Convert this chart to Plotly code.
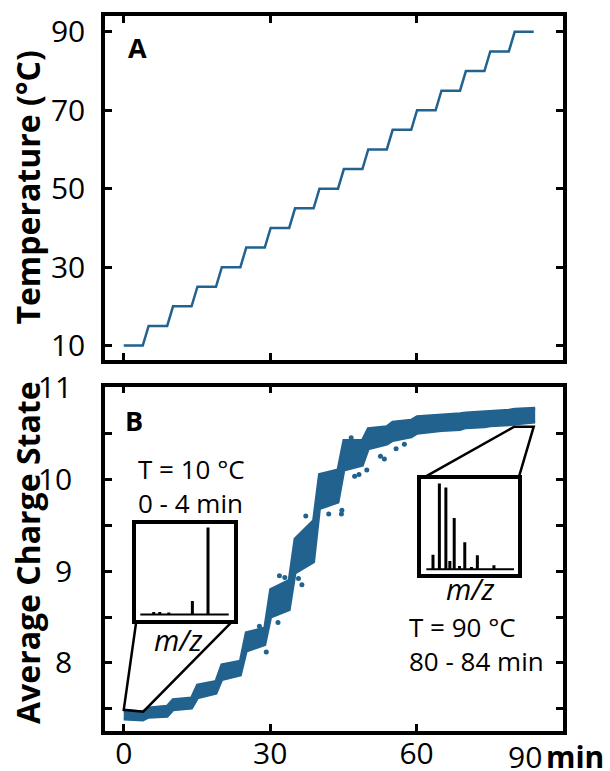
import plotly.graph_objects as go

# ---- Panel A: temperature program (min, °C) ----
temp_time = [0.0, 3.9, 5.1, 8.9, 10.1, 13.9, 15.1, 18.9, 20.1, 23.9, 25.1, 28.9,
             30.1, 33.9, 35.1, 38.9, 40.1, 43.9, 45.1, 48.9, 50.1, 53.9, 55.1, 58.9,
             60.1, 63.9, 65.1, 68.9, 70.1, 73.9, 75.1, 78.9, 80.1, 84.0]
temp_val = [10, 10, 15, 15, 20, 20, 25, 25, 30, 30, 35, 35,
            40, 40, 45, 45, 50, 50, 55, 55, 60, 60, 65, 65,
            70, 70, 75, 75, 80, 80, 85, 85, 90, 90]

# ---- Panel B: average charge state, spread of the measured values ----
acs_time = [0.0, 3.9, 5.1, 8.9, 10.1, 13.9, 15.1, 18.9, 20.1, 23.9, 25.1, 28.9,
            30.1, 33.9, 35.1, 38.9, 40.1, 43.9, 45.1, 48.9, 50.1, 53.9, 55.1, 58.9,
            60.1, 63.9, 65.1, 68.9, 70.1, 73.9, 75.1, 78.9, 80.1, 84.3]
acs_low = [7.39, 7.38, 7.41, 7.42, 7.49, 7.51, 7.62, 7.67, 7.82, 7.87, 8.13, 8.20,
           8.50, 8.58, 8.98, 9.10, 9.68, 9.75, 10.10, 10.15, 10.33, 10.38, 10.42, 10.46,
           10.50, 10.52, 10.53, 10.54, 10.56, 10.57, 10.58, 10.59, 10.60, 10.62]
acs_high = [7.48, 7.47, 7.51, 7.53, 7.60, 7.62, 7.76, 7.80, 7.98, 8.02, 8.33, 8.38,
            8.80, 8.90, 9.35, 9.55, 10.05, 10.10, 10.42, 10.42, 10.55, 10.57, 10.62, 10.64,
            10.68, 10.69, 10.70, 10.71, 10.72, 10.73, 10.74, 10.75, 10.76, 10.77]
# scattered single scans away from the main band
out_time = [27.8, 29.2, 31.6, 31.9, 33.0, 35.8, 36.5, 37.3, 42.0, 44.6, 44.7,
            46.6, 47.3, 48.2, 49.8, 52.6, 53.4, 55.8, 57.5]
out_val = [8.40, 8.12, 8.44, 8.95, 8.93, 8.92, 8.85, 9.60, 9.62, 9.62, 9.66,
           10.45, 10.03, 10.05, 10.10, 10.25, 10.22, 10.33, 10.38]

# ---- Inset spectra (relative m/z position, relative intensity) ----
spec_lo_mz = [0.178, 0.240, 0.333, 0.576, 0.737]
spec_lo_int = [0.085, 0.085, 0.080, 0.200, 0.960]
spec_lo_base = 0.06
spec_hi_mz = [0.119, 0.185, 0.252, 0.293, 0.338, 0.393, 0.447, 0.516, 0.577, 0.748]
spec_hi_int = [0.205, 0.951, 0.909, 0.139, 0.590, 0.087, 0.336, 0.076, 0.198, 0.094]
spec_hi_base = 0.052

# time windows of the two spectra and the inset boxes (in panel B units)
win_lo = [0.0, 4.0]
win_lo_level = [7.49, 7.47]
win_hi = [80.0, 84.0]
win_hi_level = [10.57, 10.57]
box_lo = dict(t=[2.6, 22.5], v=[8.465, 9.515])
box_hi = dict(t=[61.0, 80.85], v=[8.965, 10.003])

BLUE = "#21628f"
FONT = "Open Sans"

X_RANGE = [-3.84, 90]
YA_RANGE = [6.38, 94.03]
YB_RANGE = [7.26, 11.005]
DOM_A = [0.5192, 1.0]
DOM_B = [0.0, 0.4815]

fig = go.Figure()

fig.add_trace(go.Scatter(x=temp_time, y=temp_val, mode="lines",
                         line=dict(color=BLUE, width=2.5), xaxis="x", yaxis="y"))

fig.add_trace(go.Scatter(x=acs_time, y=acs_low, mode="lines",
                         line=dict(color=BLUE, width=3), xaxis="x2", yaxis="y2"))
fig.add_trace(go.Scatter(x=acs_time, y=acs_high, mode="lines", fill="tonexty",
                         fillcolor=BLUE, line=dict(color=BLUE, width=3),
                         xaxis="x2", yaxis="y2"))
fig.add_trace(go.Scatter(x=out_time, y=out_val, mode="markers",
                         marker=dict(color=BLUE, size=5), xaxis="x2", yaxis="y2"))

# connectors from the sampled windows to the inset boxes
fig.add_trace(go.Scatter(
    x=[box_lo["t"][0], win_lo[0], win_lo[1], box_lo["t"][1]],
    y=[box_lo["v"][0], win_lo_level[0], win_lo_level[1], box_lo["v"][0]],
    mode="lines", line=dict(color="black", width=2.5), xaxis="x2", yaxis="y2"))
fig.add_trace(go.Scatter(
    x=[box_hi["t"][0], win_hi[0], win_hi[1], box_hi["t"][1]],
    y=[box_hi["v"][1], win_hi_level[0], win_hi_level[1], box_hi["v"][1]],
    mode="lines", line=dict(color="black", width=2.5), xaxis="x2", yaxis="y2"))


def stick_xy(mz, inten, base):
    xs, ys = [], []
    for m, h in zip(mz, inten):
        xs += [m, m, None]
        ys += [base, h, None]
    return xs, ys


for mz, inten, base, base_span, ax in [
        (spec_lo_mz, spec_lo_int, spec_lo_base, [0.04, 0.95], "3"),
        (spec_hi_mz, spec_hi_int, spec_hi_base, [0.05, 0.955], "4")]:
    xs, ys = stick_xy(mz, inten, base)
    fig.add_trace(go.Scatter(x=xs, y=ys, mode="lines",
                             line=dict(color="black", width=3),
                             xaxis="x" + ax, yaxis="y" + ax))
    fig.add_trace(go.Scatter(x=base_span, y=[base, base], mode="lines",
                             line=dict(color="black", width=2),
                             xaxis="x" + ax, yaxis="y" + ax))


def to_frac(t, rng, dom):
    return dom[0] + (t - rng[0]) / (rng[1] - rng[0]) * (dom[1] - dom[0])


def inset_domain(box):
    xd = [to_frac(box["t"][0], X_RANGE, [0, 1]), to_frac(box["t"][1], X_RANGE, [0, 1])]
    yd = [to_frac(box["v"][0], YB_RANGE, DOM_B), to_frac(box["v"][1], YB_RANGE, DOM_B)]
    return xd, yd


frame = dict(showline=True, linewidth=3.5, linecolor="black", mirror="ticks",
             ticks="inside", ticklen=7, tickwidth=3, tickcolor="black",
             showgrid=False, zeroline=False, automargin=False,
             tickfont=dict(family=FONT, size=30, color="black"))

inset = dict(showline=True, linewidth=3.5, linecolor="black", mirror=True,
             ticks="", showticklabels=False, showgrid=False, zeroline=False,
             automargin=False, range=[0, 1])

xd3, yd3 = inset_domain(box_lo)
xd4, yd4 = inset_domain(box_hi)

fig.update_layout(
    template="none",
    width=610, height=771,
    margin=dict(l=104.5, r=46.5, t=15.5, b=40, pad=0),
    paper_bgcolor="white", plot_bgcolor="white",
    showlegend=False,
    xaxis=dict(frame, domain=[0, 1], anchor="y", range=X_RANGE,
               tickvals=[0, 30, 60, 90], showticklabels=False),
    yaxis=dict(frame, domain=DOM_A, anchor="x", range=YA_RANGE,
               tickvals=[10, 30, 50, 70, 90], ticklabelstandoff=10),
    xaxis2=dict(frame, domain=[0, 1], anchor="y2", range=X_RANGE,
                tickvals=[0, 30, 60, 90], ticktext=["0", "30", "60", ""],
                ticklabelstandoff=-7),
    yaxis2=dict(frame, domain=DOM_B, anchor="x2", range=YB_RANGE,
                tickvals=[7.5, 8, 8.5, 9, 9.5, 10, 10.5, 11],
                ticktext=["", "8", "", "9", "", "10", "", "11"],
                ticklabelstandoff=23),
    xaxis3=dict(inset, domain=xd3, anchor="y3"),
    yaxis3=dict(inset, domain=yd3, anchor="x3"),
    xaxis4=dict(inset, domain=xd4, anchor="y4"),
    yaxis4=dict(inset, domain=yd4, anchor="x4"),
)

txt = dict(family=FONT, size=26, color="black")
bold = dict(family=FONT, size=27, color="black")
title_font = dict(family=FONT, size=32, color="black")
ann = [
    dict(text="<b>A</b>", x=2.74, y=86.0, xref="x", yref="y", font=bold),
    dict(text="<b>B</b>", x=2.04, y=10.636, xref="x2", yref="y2", font=bold),
    dict(text="T = 10 °C<br>0 - 4 min", x=2.5, y=9.92, xref="x2", yref="y2",
         xanchor="left", align="left", font=txt),
    dict(text="T = 90 °C<br>80 - 84 min", x=57.95, y=8.21, xref="x2", yref="y2",
         xanchor="left", align="left", font=txt),
    dict(text="<i>m/z</i>", x=11.2, y=8.26, xref="x2", yref="y2",
         font=dict(family=FONT, size=29, color="black")),
    dict(text="<i>m/z</i>", x=71.0, y=8.81, xref="x2", yref="y2",
         font=dict(family=FONT, size=29, color="black")),
    dict(text="90", x=82.3, y=-0.0363, xref="x2", yref="paper",
         font=dict(family=FONT, size=30, color="black")),
    dict(text="<b>min</b>", x=86.2, y=-0.0363, xref="x2", yref="paper",
         xanchor="left", font=dict(family=FONT, size=30, color="black")),
    dict(text="<b>Temperature (°C)</b>", textangle=-90, x=-0.1688, y=0.7596,
         xref="paper", yref="paper", font=title_font),
    dict(text="<b>Average Charge State</b>", textangle=-90, x=-0.1677, y=0.2492,
         xref="paper", yref="paper", font=title_font),
]
for a in ann:
    a.setdefault("showarrow", False)
    a.setdefault("xanchor", "center")
    a.setdefault("yanchor", "middle")
fig.update_layout(annotations=ann)

fig.write_html("out.html")
